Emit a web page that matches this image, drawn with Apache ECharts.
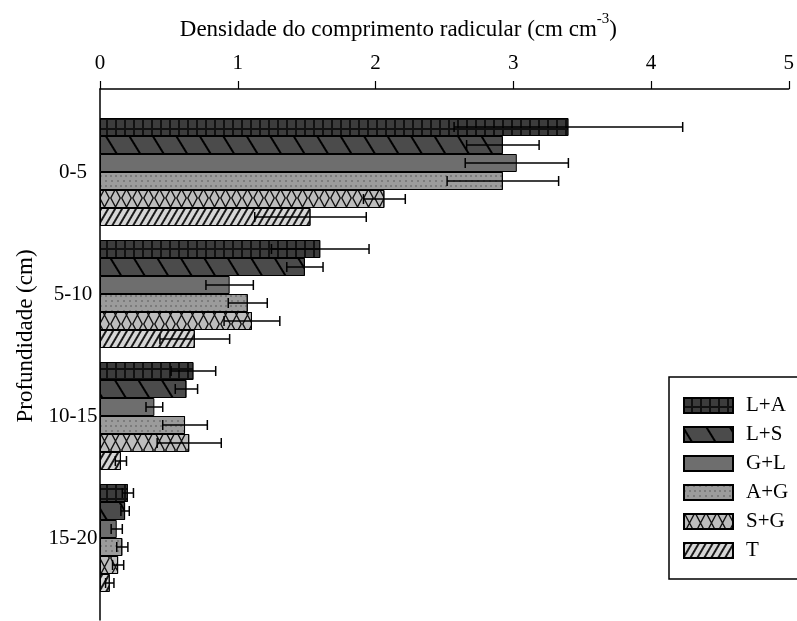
<!DOCTYPE html>
<html>
<head>
<meta charset="utf-8">
<script src="https://cdn.jsdelivr.net/npm/echarts@6/dist/echarts.min.js"></script>
<style>html,body{margin:0;padding:0;background:#fff;}#c{width:797px;height:621px;}</style>
</head>
<body>
<div id="c"></div>
<script>
// ---- data ----
var categories = ['0-5', '5-10', '10-15', '15-20'];
var seriesNames = ['L+A', 'L+S', 'G+L', 'A+G', 'S+G', 'T'];
var LA = [3.36, 1.58, 0.67, 0.20];
var LS = [2.89, 1.47, 0.62, 0.18];
var GL = [2.99, 0.93, 0.39, 0.12];
var AG = [2.89, 1.06, 0.61, 0.16];
var SG = [2.04, 1.09, 0.64, 0.13];
var T  = [1.51, 0.68, 0.15, 0.07];
var LA_err = [0.82, 0.35, 0.16, 0.04];
var LS_err = [0.26, 0.13, 0.08, 0.03];
var GL_err = [0.37, 0.17, 0.06, 0.04];
var AG_err = [0.40, 0.14, 0.16, 0.04];
var SG_err = [0.15, 0.20, 0.23, 0.04];
var T_err  = [0.40, 0.25, 0.04, 0.03];
var xTicks = [0, 1, 2, 3, 4, 5];

var values = [LA, LS, GL, AG, SG, T];
var errors = [LA_err, LS_err, GL_err, AG_err, SG_err, T_err];

// ---- styles ----
var FONT = 'Liberation Serif';
var BAR_W = 18;
var styles = [
  {color: '#111111', decal: {symbol: 'rect', symbolSize: 1, color: '#3c3c3c', dashArrayX: [6.1, 1.2], dashArrayY: [7.8, 1.2], rotation: 0}},
  {color: '#4b4b4b', decal: {symbol: 'rect', symbolSize: 1, color: '#000000', dashArrayX: [1, 0], dashArrayY: [1.3, 17.5], rotation: 1.02}},
  {color: '#6e6e6e', decal: 'none'},
  {color: '#9b9b9b', decal: {symbol: 'circle', symbolSize: 0.7, color: '#444444', dashArrayX: [[2, 3], [0, 2.5, 2, 0.5]], dashArrayY: [2, 2.5], rotation: 0}},
  {color: '#bdbdbd', decal: {symbol: 'path://M0,0 L1.5,0 L11,18 L9.5,18 Z M9.5,0 L11,0 L1.5,18 L0,18 Z', symbolSize: 1, symbolKeepAspect: false, color: '#111111', dashArrayX: [11, 0], dashArrayY: [18, 0], rotation: 0}},
  {color: '#d6d6d6', decal: {symbol: 'rect', symbolSize: 1, color: '#1a1a1a', dashArrayX: [1, 0], dashArrayY: [1.4, 3.8], rotation: -1.04}}
];

var series = seriesNames.map(function (name, i) {
  var st = {color: styles[i].color, borderColor: '#000', borderWidth: 1};
  if (styles[i].decal !== 'none') st.decal = styles[i].decal;
  return {
    name: name, type: 'bar', xAxisIndex: 1, yAxisIndex: 1,
    barWidth: BAR_W, barGap: '0%', data: values[i], itemStyle: st, z: 2
  };
});

var errData = [];
values.forEach(function (arr, k) {
  arr.forEach(function (v, c) { errData.push([c, k, v, errors[k][c]]); });
});

series.push({
  type: 'custom', xAxisIndex: 1, yAxisIndex: 1, z: 5, silent: true,
  encode: {x: 2, y: 0},
  data: errData,
  renderItem: function (params, api) {
    var cat = api.value(0), k = api.value(1), m = api.value(2), e = api.value(3);
    var c = api.coord([m, cat]);
    var lo = api.coord([m - e, cat]);
    var hi = api.coord([m + e, cat]);
    var y = c[1] + (k - (seriesNames.length - 1) / 2) * BAR_W;
    var ls = {stroke: '#000', lineWidth: 1.5};
    return {type: 'group', children: [
      {type: 'line', shape: {x1: lo[0], y1: y, x2: hi[0], y2: y}, style: ls},
      {type: 'line', shape: {x1: lo[0], y1: y - 5, x2: lo[0], y2: y + 5}, style: ls},
      {type: 'line', shape: {x1: hi[0], y1: y - 5, x2: hi[0], y2: y + 5}, style: ls}
    ]};
  }
});

var chart = echarts.init(document.getElementById('c'), null, {renderer: 'canvas'});
chart.setOption({
  animation: false,
  backgroundColor: '#fff',
  textStyle: {fontFamily: FONT, color: '#000'},
  grid: [
    {left: 100, right: 0, top: 89, bottom: 1},
    {left: 100, right: 0, top: 111, bottom: 22}
  ],
  xAxis: [
    {
      gridIndex: 0, type: 'value', position: 'top', min: xTicks[0], max: xTicks[xTicks.length - 1], interval: 1,
      name: '{n|Densidade do comprimento radicular (cm cm}{sup|-3}{n|)}',
      nameLocation: 'middle', nameGap: 48,
      nameTextStyle: {fontFamily: FONT, fontSize: 23, color: '#000', padding: [0, 92, 0, 0],
        rich: {
          n: {fontFamily: FONT, fontSize: 23, color: '#000', verticalAlign: 'bottom'},
          sup: {fontFamily: FONT, fontSize: 15, color: '#000', verticalAlign: 'top', padding: [0, 0, 14, 0]}
        }},
      axisLine: {show: true, onZero: false, lineStyle: {color: '#000', width: 1.5}},
      axisTick: {show: true, length: 8, lineStyle: {color: '#000', width: 1.2}},
      axisLabel: {fontFamily: FONT, fontSize: 21, color: '#000', margin: 15},
      splitLine: {show: false}
    },
    {gridIndex: 1, type: 'value', min: xTicks[0], max: xTicks[xTicks.length - 1], show: false, splitLine: {show: false}}
  ],
  yAxis: [
    {
      gridIndex: 0, type: 'value', min: 0, max: 1,
      name: 'Profundidade (cm)', nameLocation: 'middle', nameGap: 63, nameRotate: 90,
      nameTextStyle: {fontFamily: FONT, fontSize: 23, color: '#000', padding: [0, 0, 0, 37]},
      axisLine: {show: true, onZero: false, lineStyle: {color: '#000', width: 1.5}},
      axisTick: {show: false}, axisLabel: {show: false}, splitLine: {show: false}
    },
    {
      gridIndex: 1, type: 'category', inverse: true, data: categories,
      axisLine: {show: false}, axisTick: {show: false},
      axisLabel: {fontFamily: FONT, fontSize: 21, color: '#000', margin: 27, align: 'center'}
    }
  ],
  legend: {
    orient: 'vertical', left: 669, top: 377,
    data: seriesNames,
    itemWidth: 49, itemHeight: 15, itemGap: 8,
    padding: [18, 60, 18, 14],
    borderColor: '#000', borderWidth: 1.5,
    icon: 'rect',
    textStyle: {fontFamily: FONT, fontSize: 21, color: '#000', padding: [0, 0, 0, 8]}
  },
  series: series
});
</script>
</body>
</html>
